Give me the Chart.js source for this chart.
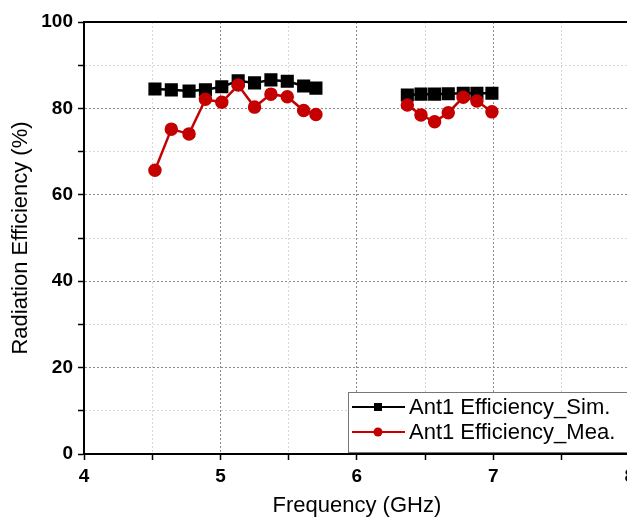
<!DOCTYPE html>
<html lang="en">
<head>
    <meta charset="UTF-8">
    <title>Radiation Efficiency</title>
    <script src="https://cdn.jsdelivr.net/npm/chart.js"></script>
    <style>
    body {
        margin: 0;
        background-color: #ffffff;
        overflow: hidden;
    }
    .container {
        position: relative;
        width: 640px;
        height: 519px;
    }
</style>
</head>
<body>
    <div class="container">
        <canvas id="eff-chart"></canvas>
    </div>

    <script>
    // Lower band (GHz) and efficiencies (%)
    const lowFreq = [4.52, 4.64, 4.77, 4.89, 5.01, 5.13, 5.25, 5.37, 5.49, 5.61, 5.70];
    const simLow  = [84.5, 84.3, 84.0, 84.3, 85.0, 86.4, 85.9, 86.6, 86.3, 85.2, 84.7];
    const meaLow  = [65.7, 75.2, 74.1, 82.1, 81.4, 85.4, 80.3, 83.3, 82.7, 79.5, 78.6];

    // Upper band
    const highFreq = [6.37, 6.47, 6.57, 6.67, 6.78, 6.88, 6.99];
    const simHigh  = [83.1, 83.3, 83.3, 83.4, 83.5, 83.5, 83.5];
    const meaHigh  = [80.8, 78.5, 76.9, 79.0, 82.6, 81.7, 79.2];

    const seriesLabels = ['Ant1 Efficiency_Sim.', 'Ant1 Efficiency_Mea.'];
    const yTickLabels = [0, 20, 40, 60, 80, 100];
    const xTickLabels = [4, 5, 6, 7, 8];

    const FONT = "'Liberation Sans', Arial, sans-serif";

    // join both bands, with an empty point between them so the line breaks
    function bandPoints(lo, hi) {
        const pts = lowFreq.map((f, i) => ({ x: f, y: lo[i] }));
        pts.push({ x: (lowFreq[lowFreq.length - 1] + highFreq[0]) / 2, y: null });
        highFreq.forEach((f, i) => pts.push({ x: f, y: hi[i] }));
        return pts;
    }

    // boxed legend sitting inside the plot, bottom right
    const legendBox = {
        id: 'legendBox',
        afterDraw(chart) {
            const ctx = chart.ctx;
            const area = chart.chartArea;
            const x = area.left + 264, y = area.bottom - 62, w = 300, h = 60;
            ctx.save();
            ctx.fillStyle = 'rgba(0,0,0,0.12)';
            ctx.fillRect(x + 2, y + 2, w, h);
            ctx.fillStyle = '#ffffff';
            ctx.fillRect(x, y, w, h);
            ctx.strokeStyle = '#777';
            ctx.lineWidth = 1;
            ctx.strokeRect(x + 0.5, y + 0.5, w, h);

            chart.data.datasets.forEach((ds, i) => {
                const rowY = y + 15 + i * 25;
                ctx.strokeStyle = ds.borderColor;
                ctx.lineWidth = 2;
                ctx.beginPath();
                ctx.moveTo(x + 4, rowY);
                ctx.lineTo(x + 57, rowY);
                ctx.stroke();
                ctx.fillStyle = ds.pointBackgroundColor;
                if (ds.pointStyle === 'rect') {
                    ctx.fillRect(x + 26, rowY - 4, 8, 8);
                } else {
                    ctx.beginPath();
                    ctx.arc(x + 30, rowY, 4.5, 0, Math.PI * 2);
                    ctx.fill();
                }
                ctx.fillStyle = '#000';
                ctx.font = '22px ' + FONT;
                ctx.textBaseline = 'middle';
                ctx.fillText(ds.label, x + 61, rowY + 1);
            });
            ctx.restore();
        }
    };

    // top and right frame lines
    const frame = {
        id: 'frame',
        afterDatasetsDraw(chart) {
            const ctx = chart.ctx;
            const a = chart.chartArea;
            ctx.save();
            ctx.strokeStyle = '#000';
            ctx.lineWidth = 2;
            ctx.beginPath();
            ctx.moveTo(a.left, a.top);
            ctx.lineTo(a.right, a.top);
            ctx.lineTo(a.right, a.bottom);
            ctx.stroke();
            ctx.restore();
        }
    };

    const ctx = document.getElementById('eff-chart').getContext('2d');
    const chart = new Chart(ctx, {
        type: 'line',
        data: {
            datasets: [{
                label: seriesLabels[0],
                data: bandPoints(simLow, simHigh),
                borderColor: '#000000',
                backgroundColor: '#000000',
                pointBackgroundColor: '#000000',
                pointBorderColor: '#000000',
                pointStyle: 'rect',
                pointRadius: 7.5,
                borderWidth: 2.5,
                order: 2
            }, {
                label: seriesLabels[1],
                data: bandPoints(meaLow, meaHigh),
                borderColor: '#c40000',
                backgroundColor: '#c40000',
                pointBackgroundColor: '#c40000',
                pointBorderColor: '#c40000',
                pointStyle: 'circle',
                pointRadius: 5.5,
                borderWidth: 2.5,
                order: 1
            }]
        },
        options: {
            responsive: true,
            maintainAspectRatio: false,
            animation: false,
            spanGaps: false,
            layout: { padding: { top: 22, right: 8, left: 0, bottom: 0 } },
            plugins: {
                legend: { display: false },
                tooltip: { enabled: false }
            },
            scales: {
                x: {
                    type: 'linear',
                    min: 4,
                    max: 8,
                    afterFit: s => { s.height = 65; },
                    ticks: {
                        stepSize: 0.5,
                        autoSkip: false,
                        maxRotation: 0,
                        padding: 5,
                        color: '#000',
                        font: { family: FONT, size: 19, weight: 'bold' },
                        callback: v => xTickLabels.includes(v) ? v : ''
                    },
                    grid: {
                        color: c => Number.isInteger(c.tick.value) ? '#8a8a8a' : '#d8d8d8',
                        lineWidth: 1,
                        tickLength: 6,
                        tickColor: '#000',
                        tickWidth: 1.5,
                        tickBorderDash: []
                    },
                    border: { color: '#000', width: 2, dash: [2, 2] },
                    title: {
                        display: true,
                        text: 'Frequency (GHz)',
                        color: '#000',
                        font: { family: FONT, size: 22 },
                        padding: { top: 0, bottom: 0 }
                    }
                },
                y: {
                    min: 0,
                    max: 100,
                    afterFit: s => { s.width = 84; },
                    ticks: {
                        stepSize: 10,
                        padding: 5,
                        color: '#000',
                        font: { family: FONT, size: 19, weight: 'bold' },
                        callback: v => yTickLabels.includes(v) ? v : ''
                    },
                    grid: {
                        color: c => c.tick.value % 20 === 0 ? '#8a8a8a' : '#d8d8d8',
                        lineWidth: 1,
                        tickLength: 6,
                        tickColor: '#000',
                        tickWidth: 1.5,
                        tickBorderDash: []
                    },
                    border: { color: '#000', width: 2, dash: [2, 2] },
                    title: {
                        display: true,
                        text: 'Radiation Efficiency (%)',
                        color: '#000',
                        font: { family: FONT, size: 22 },
                        padding: { top: 8, bottom: 0 }
                    }
                }
            }
        },
        plugins: [frame, legendBox]
    });
</script>
</body>
</html>
